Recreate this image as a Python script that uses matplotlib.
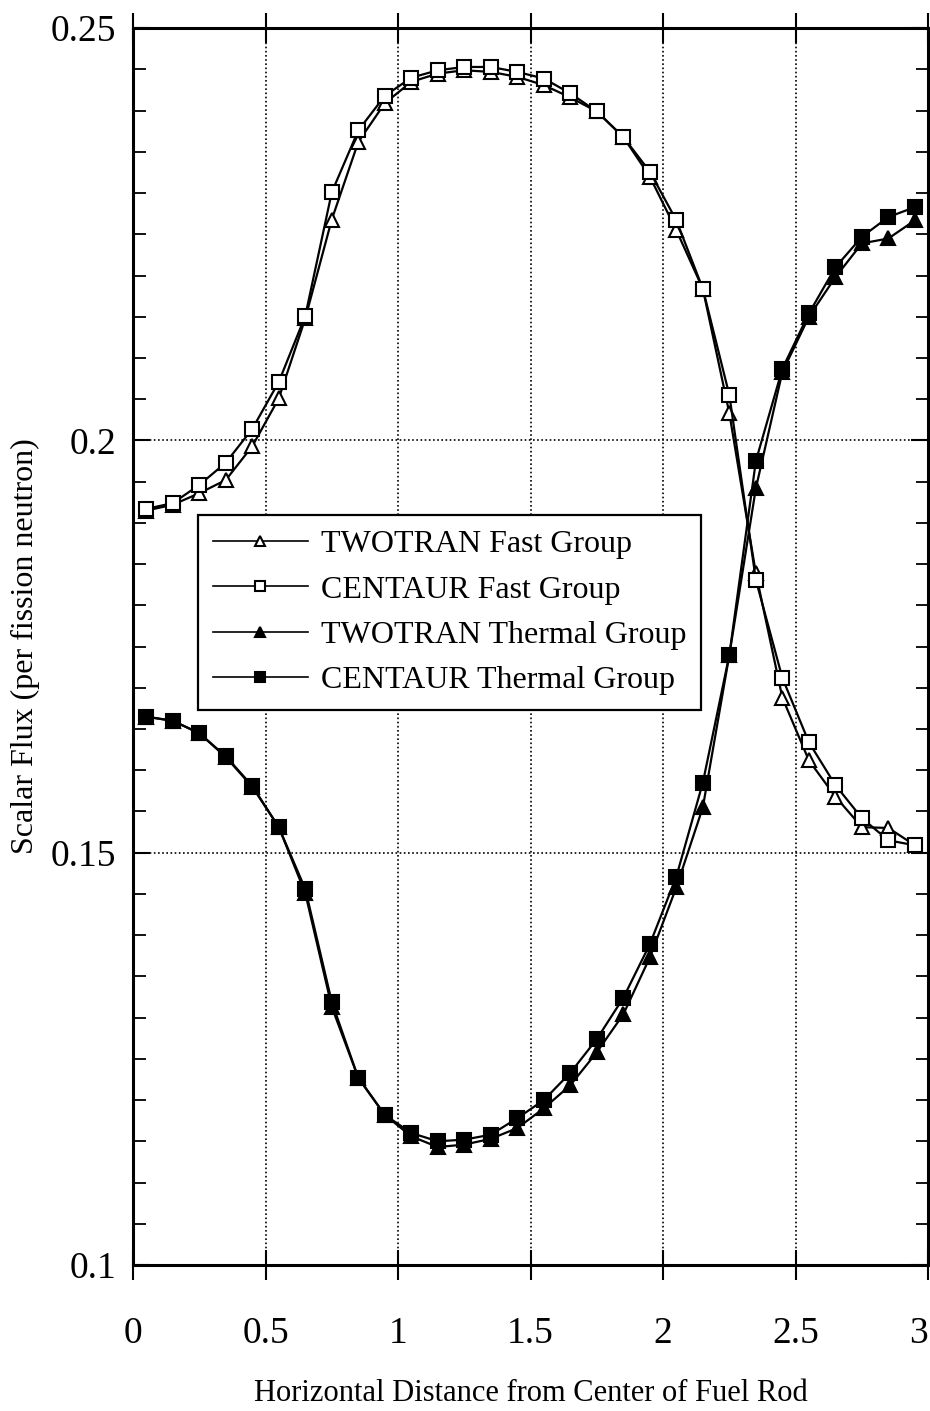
import numpy as np
import matplotlib
matplotlib.use("Agg")
import matplotlib.pyplot as plt
from matplotlib.ticker import MultipleLocator, FixedLocator

plt.rcParams["font.family"] = ["Liberation Serif", "DejaVu Serif"]

# ─── Data ──────────────────────────────────────────────────────────
x = [0.05, 0.15, 0.25, 0.35, 0.45, 0.55, 0.65, 0.75, 0.85, 0.95,
     1.05, 1.15, 1.25, 1.35, 1.45, 1.55, 1.65, 1.75, 1.85, 1.95,
     2.05, 2.15, 2.25, 2.35, 2.45, 2.55, 2.65, 2.75, 2.85, 2.95]

twotran_fast = [0.1915, 0.1922, 0.1936, 0.1952, 0.1993, 0.2051, 0.2148, 0.2268, 0.2362, 0.2409,
                0.2435, 0.2445, 0.2449, 0.2447, 0.2441, 0.2431, 0.2416, 0.2399, 0.2368, 0.2320,
                0.2255, 0.2184, 0.2033, 0.1839, 0.1688, 0.1612, 0.1568, 0.1531, 0.1530, 0.1509]
centaur_fast = [0.1917, 0.1924, 0.1946, 0.1973, 0.2014, 0.2071, 0.2151, 0.2301, 0.2376, 0.2418,
                0.2440, 0.2449, 0.2453, 0.2453, 0.2447, 0.2439, 0.2421, 0.2399, 0.2368, 0.2326,
                0.2267, 0.2184, 0.2055, 0.1831, 0.1712, 0.1634, 0.1582, 0.1542, 0.1515, 0.1509]
twotran_thermal = [0.1665, 0.1660, 0.1645, 0.1616, 0.1580, 0.1531, 0.1451, 0.1313, 0.1227, 0.1182,
                   0.1156, 0.1143, 0.1146, 0.1153, 0.1166, 0.1190, 0.1218, 0.1258, 0.1304, 0.1373,
                   0.1458, 0.1555, 0.1740, 0.1942, 0.2083, 0.2150, 0.2198, 0.2239, 0.2245, 0.2267]
centaur_thermal = [0.1665, 0.1660, 0.1645, 0.1617, 0.1581, 0.1531, 0.1456, 0.1319, 0.1227, 0.1182,
                   0.1160, 0.1150, 0.1152, 0.1158, 0.1178, 0.1200, 0.1233, 0.1274, 0.1324, 0.1389,
                   0.1471, 0.1585, 0.1740, 0.1975, 0.2087, 0.2154, 0.2210, 0.2247, 0.2271, 0.2283]

labels = ["TWOTRAN Fast Group", "CENTAUR Fast Group",
          "TWOTRAN Thermal Group", "CENTAUR Thermal Group"]

x_ticks = [0, 0.5, 1, 1.5, 2, 2.5, 3]
x_ticklabels = ["0", "0.5", "1", "1.5", "2", "2.5", "3"]
y_ticks = [0.1, 0.15, 0.2, 0.25]
y_ticklabels = ["0.1", "0.15", "0.2", "0.25"]

# ─── Figure ────────────────────────────────────────────────────────
fig = plt.figure(figsize=(9.3, 14.11), dpi=100)
ax = fig.add_axes([0.143, 0.1035, 0.855, 0.8765])

ax.set_xlim(0, 3)
ax.set_ylim(0.1, 0.25)

# dotted grid
for gx in x_ticks[1:-1]:
    ax.axvline(gx, color="black", linestyle=(0, (1, 1.5)), linewidth=1.2, zorder=1)
for gy in y_ticks[1:-1]:
    ax.axhline(gy, color="black", linestyle=(0, (1, 1.5)), linewidth=1.2, zorder=1)

style = dict(color="black", linewidth=1.6, markersize=9.5, markeredgewidth=1.5, zorder=3)
ax.plot(x, twotran_fast, "-^", markerfacecolor="white", label=labels[0], **style)
ax.plot(x, centaur_fast, "-s", markerfacecolor="white", label=labels[1], **style)
ax.plot(x, twotran_thermal, "-^", markerfacecolor="black", label=labels[2], **style)
ax.plot(x, centaur_thermal, "-s", markerfacecolor="black", label=labels[3], **style)

# ticks
ax.xaxis.set_major_locator(FixedLocator(x_ticks))
ax.set_xticklabels(x_ticklabels)
ax.yaxis.set_major_locator(FixedLocator(y_ticks))
ax.set_yticklabels(y_ticklabels)
ax.yaxis.set_minor_locator(MultipleLocator(0.005))
ax.tick_params(axis="x", which="major", direction="inout", length=22, width=1.5,
               top=True, labelsize=27, pad=26)
ax.tick_params(axis="y", which="major", direction="in", length=12, width=1.5,
               right=True, labelsize=27, pad=12)
ax.tick_params(axis="y", which="minor", direction="in", length=9, width=1.3, right=True)
# last x label sits against the right edge
ax.get_xticklabels()[-1].set_horizontalalignment("right")

for sp in ax.spines.values():
    sp.set_linewidth(2.2)

ax.set_xlabel("Horizontal Distance from Center of Fuel Rod", fontsize=22, labelpad=20)
ax.set_ylabel("Scalar Flux (per fission neutron)", fontsize=23, labelpad=8)

leg = ax.legend(loc="upper left", bbox_to_anchor=(0.082, 0.606), fontsize=23,
                frameon=True, fancybox=False, handlelength=3.0, handletextpad=0.4,
                borderpad=0.45, labelspacing=0.5, markerscale=0.75,
                borderaxespad=0)
leg.get_frame().set_edgecolor("black")
leg.get_frame().set_linewidth(1.6)
leg.get_frame().set_alpha(1)
for h in leg.get_lines():
    h.set_linewidth(1.2)

fig.savefig("out.png", dpi=100)
